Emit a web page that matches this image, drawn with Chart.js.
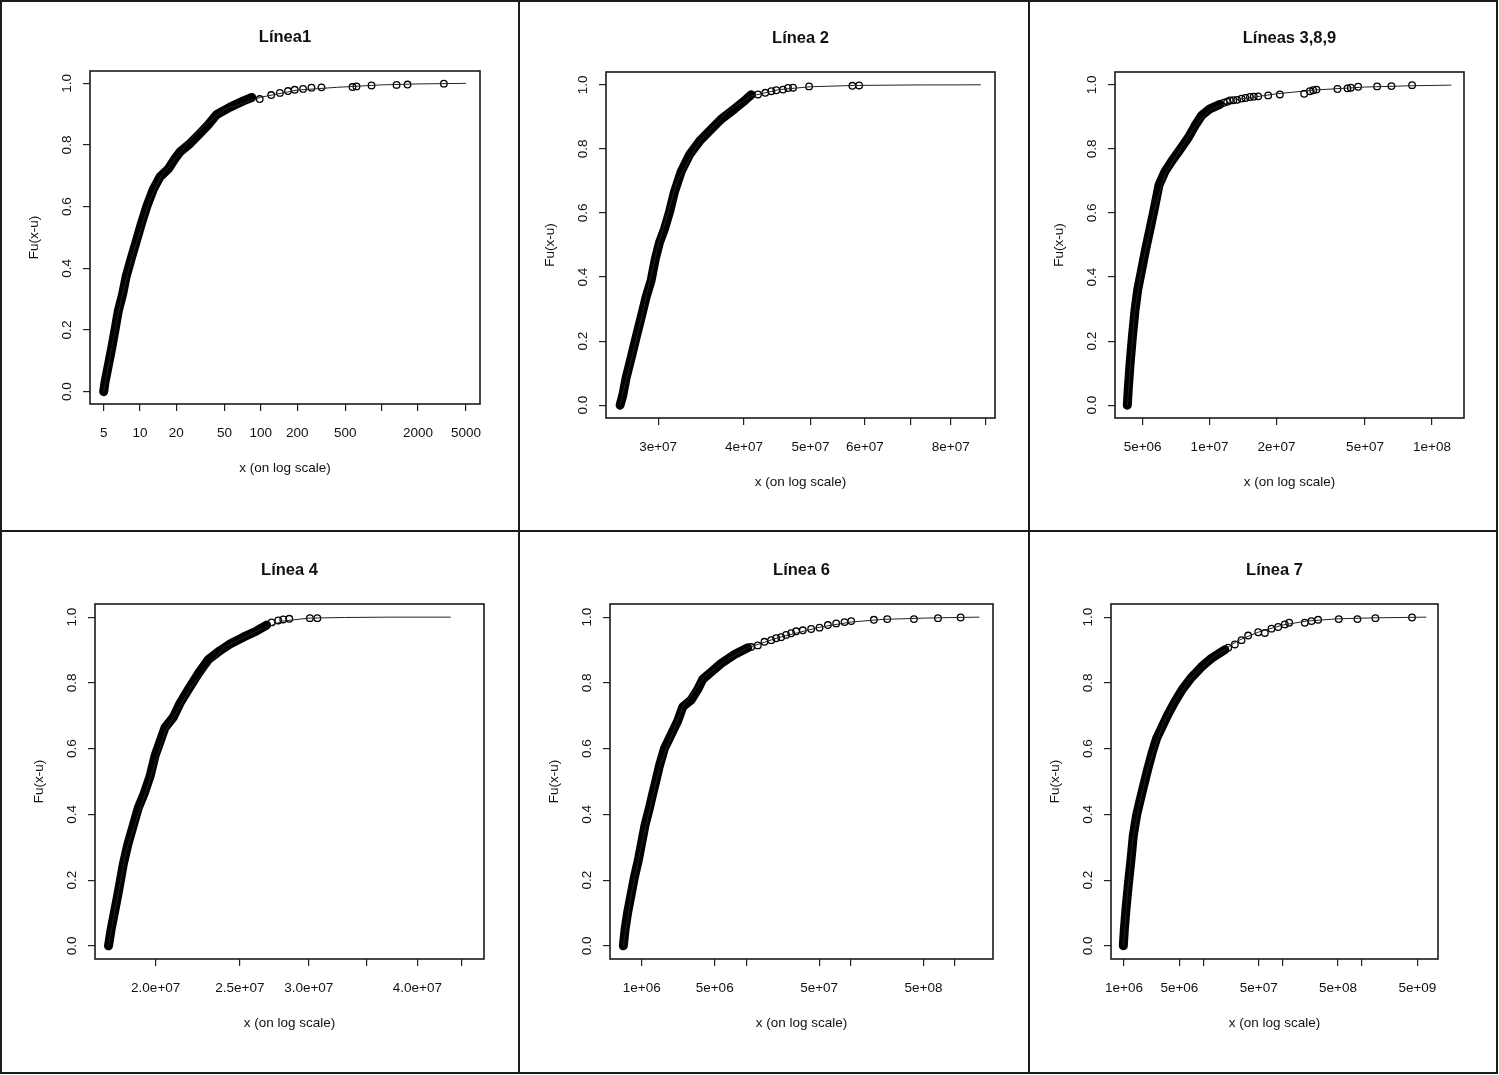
<!DOCTYPE html>
<html lang="es">
<head>
<meta charset="utf-8">
<title>Fu(x-u)</title>
<script src="https://cdn.jsdelivr.net/npm/chart.js@4.4.1/dist/chart.umd.min.js"></script>
<style>
  html, body { margin: 0; padding: 0; background: #fff; }
  #page { position: relative; width: 1499px; height: 1075px; overflow: hidden; background: #fff; }
  .rule { position: absolute; background: #1c1c1c; }
  canvas { position: absolute; }
</style>
</head>
<body>
<div id="page">
  <div class="rule" style="left:0;top:0;width:1498px;height:2px"></div>
  <div class="rule" style="left:0;top:1072px;width:1498px;height:2px"></div>
  <div class="rule" style="left:0;top:0;width:2px;height:1074px"></div>
  <div class="rule" style="left:1496px;top:0;width:2px;height:1074px"></div>
  <div class="rule" style="left:518px;top:0;width:2px;height:1074px"></div>
  <div class="rule" style="left:1028px;top:0;width:2px;height:1074px"></div>
  <div class="rule" style="left:0;top:530px;width:1498px;height:2px"></div>
  <canvas id="c1"></canvas>
  <canvas id="c2"></canvas>
  <canvas id="c3"></canvas>
  <canvas id="c4"></canvas>
  <canvas id="c5"></canvas>
  <canvas id="c6"></canvas>
</div>
<script>
// eje y común
const yTicks = [0, 0.2, 0.4, 0.6, 0.8, 1.0];
const yTickLabels = ["0.0", "0.2", "0.4", "0.6", "0.8", "1.0"];

// Línea1
const l1DenseX = [5.0, 5.13, 5.47, 5.83, 6.21, 6.61, 7.18, 7.65, 8.37, 9.38, 10.3, 11.4, 12.9, 14.6, 17.2, 19.5, 21.5, 26.0, 31.4, 36.8, 43.2, 55.7, 71.8, 84.2];
const l1DenseF = [0.0, 0.031, 0.086, 0.141, 0.201, 0.262, 0.316, 0.371, 0.426, 0.492, 0.547, 0.602, 0.657, 0.696, 0.723, 0.756, 0.778, 0.805, 0.838, 0.866, 0.899, 0.923, 0.943, 0.954];
const l1TailX = [98, 122, 144, 168, 191, 224, 263, 318, 575, 620, 826, 1331, 1641, 3281];
const l1TailF = [0.949, 0.962, 0.969, 0.975, 0.979, 0.982, 0.986, 0.987, 0.988, 0.990, 0.993, 0.995, 0.996, 0.999];
const l1FitX = [5, 6, 7, 8.5, 10, 12, 15, 20, 30, 50, 100, 200, 425, 1000, 2000, 5000];
const l1FitF = [0, 0.17, 0.3, 0.43, 0.52, 0.62, 0.7, 0.76, 0.845, 0.915, 0.955, 0.978, 0.987, 0.995, 0.998, 1.0];
const l1Ticks = [5, 10, 20, 50, 100, 200, 500, 1000, 2000, 5000];
const l1TickLabels = ["5", "10", "20", "50", "100", "200", "500", "", "2000", "5000"];

// Línea 2
const l2DenseX = [2.641e7, 2.665e7, 2.694e7, 2.740e7, 2.786e7, 2.834e7, 2.882e7, 2.931e7, 2.970e7, 3.013e7, 3.064e7, 3.116e7, 3.169e7, 3.241e7, 3.333e7, 3.447e7, 3.565e7, 3.707e7, 3.877e7, 3.987e7, 4.100e7];
const l2DenseF = [0, 0.031, 0.084, 0.147, 0.211, 0.274, 0.338, 0.390, 0.454, 0.507, 0.549, 0.602, 0.666, 0.729, 0.782, 0.824, 0.856, 0.893, 0.925, 0.946, 0.969];
const l2TailX = [4.193e7, 4.297e7, 4.385e7, 4.459e7, 4.560e7, 4.637e7, 4.716e7, 4.976e7, 5.754e7, 5.885e7];
const l2TailF = [0.970, 0.975, 0.980, 0.983, 0.985, 0.990, 0.991, 0.995, 0.997, 0.998];
const l2FitX = [2.64e7, 2.8e7, 3.0e7, 3.2e7, 3.45e7, 3.8e7, 4.1e7, 4.5e7, 5e7, 5.8e7, 7e7, 8.85e7];
const l2FitF = [0, 0.22, 0.5, 0.7, 0.825, 0.92, 0.965, 0.985, 0.994, 0.998, 0.9995, 1.0];
const l2Ticks = [3e7, 4e7, 5e7, 6e7, 7e7, 8e7, 9e7];
const l2TickLabels = ["3e+07", "4e+07", "5e+07", "6e+07", "", "8e+07", ""];

// Líneas 3,8,9
const l3DenseX = [4.267e6, 4.312e6, 4.387e6, 4.494e6, 4.620e6, 4.749e6, 4.950e6, 5.159e6, 5.396e6, 5.643e6, 5.922e6, 6.301e6, 6.748e6, 7.359e6, 8.024e6, 8.594e6, 9.207e6, 1.003e7, 1.113e7];
const l3DenseF = [0, 0.052, 0.126, 0.211, 0.295, 0.359, 0.422, 0.486, 0.549, 0.613, 0.687, 0.729, 0.761, 0.798, 0.835, 0.872, 0.904, 0.925, 0.939];
const l3TailX = [1.16e7, 1.2e7, 1.234e7, 1.28e7, 1.33e7, 1.392e7, 1.45e7, 1.518e7, 1.58e7, 1.654e7, 1.834e7, 2.070e7, 2.662e7, 2.822e7, 2.922e7, 3.024e7, 3.758e7, 4.168e7, 4.313e7, 4.653e7, 5.662e7, 6.567e7, 8.133e7];
const l3TailF = [0.944, 0.947, 0.951, 0.952, 0.953, 0.957, 0.959, 0.962, 0.963, 0.964, 0.967, 0.970, 0.972, 0.980, 0.983, 0.985, 0.987, 0.989, 0.991, 0.994, 0.995, 0.996, 0.999];
const l3FitX = [4.27e6, 4.6e6, 5e6, 5.6e6, 6.3e6, 7.4e6, 8.6e6, 1e7, 1.3e7, 2e7, 3e7, 5e7, 8e7, 1.22e8];
const l3FitF = [0, 0.29, 0.44, 0.6, 0.72, 0.8, 0.87, 0.922, 0.953, 0.972, 0.984, 0.993, 0.997, 0.999];
const l3Ticks = [5e6, 1e7, 2e7, 5e7, 1e8];
const l3TickLabels = ["5e+06", "1e+07", "2e+07", "5e+07", "1e+08"];

// Línea 4
const l4DenseX = [1.765e7, 1.777e7, 1.793e7, 1.812e7, 1.836e7, 1.860e7, 1.885e7, 1.910e7, 1.939e7, 1.970e7, 1.997e7, 2.023e7, 2.050e7, 2.096e7, 2.133e7, 2.181e7, 2.239e7, 2.299e7, 2.371e7, 2.435e7, 2.522e7, 2.613e7, 2.683e7];
const l4DenseF = [0, 0.049, 0.102, 0.165, 0.250, 0.314, 0.367, 0.420, 0.462, 0.515, 0.579, 0.621, 0.664, 0.696, 0.738, 0.780, 0.828, 0.871, 0.898, 0.918, 0.939, 0.958, 0.976];
const l4TailX = [2.719e7, 2.767e7, 2.804e7, 2.849e7, 3.009e7, 3.069e7];
const l4TailF = [0.984, 0.990, 0.993, 0.995, 0.997, 0.997];
const l4FitX = [1.765e7, 1.85e7, 1.95e7, 2.05e7, 2.2e7, 2.4e7, 2.6e7, 2.8e7, 3.0e7, 3.3e7, 3.7e7, 4.37e7];
const l4FitF = [0, 0.29, 0.47, 0.65, 0.79, 0.91, 0.955, 0.988, 0.997, 0.999, 1.0, 1.0];
const l4Ticks = [2.0e7, 2.5e7, 3.0e7, 3.5e7, 4.0e7, 4.5e7];
const l4TickLabels = ["2.0e+07", "2.5e+07", "3.0e+07", "", "4.0e+07", ""];

// Línea 6
const l6DenseX = [6.673e5, 6.923e5, 7.342e5, 7.902e5, 8.506e5, 9.292e5, 1.0e6, 1.076e6, 1.185e6, 1.275e6, 1.372e6, 1.477e6, 1.649e6, 1.911e6, 2.213e6, 2.472e6, 2.971e6, 3.441e6, 3.843e6, 4.618e6, 5.759e6, 7.732e6, 1.038e7];
const l6DenseF = [0, 0.049, 0.102, 0.155, 0.208, 0.261, 0.314, 0.367, 0.419, 0.462, 0.504, 0.547, 0.600, 0.642, 0.684, 0.727, 0.748, 0.780, 0.811, 0.833, 0.859, 0.886, 0.907];
const l6TailX = [1.117e7, 1.294e7, 1.499e7, 1.738e7, 1.940e7, 2.165e7, 2.416e7, 2.700e7, 3.013e7, 3.492e7, 4.198e7, 5.046e7, 6.063e7, 7.289e7, 8.760e7, 1.015e8, 1.673e8, 2.246e8, 4.046e8, 6.873e8, 1.133e9];
const l6TailF = [0.909, 0.914, 0.925, 0.930, 0.936, 0.939, 0.946, 0.951, 0.957, 0.960, 0.964, 0.968, 0.976, 0.981, 0.985, 0.988, 0.992, 0.994, 0.994, 0.997, 0.999];
const l6FitX = [6.67e5, 8e5, 1e6, 1.5e6, 2.5e6, 4e6, 6e6, 1e7, 2e7, 5e7, 1e8, 2e8, 5e8, 1e9, 1.71e9];
const l6FitF = [0, 0.16, 0.31, 0.55, 0.73, 0.82, 0.862, 0.905, 0.937, 0.969, 0.985, 0.993, 0.997, 0.999, 1.0];
const l6Ticks = [1e6, 5e6, 1e7, 5e7, 1e8, 5e8, 1e9];
const l6TickLabels = ["1e+06", "5e+06", "", "5e+07", "", "5e+08", ""];

// Línea 7
const l7DenseX = [9.81e5, 1.010e6, 1.060e6, 1.134e6, 1.225e6, 1.310e6, 1.444e6, 1.591e6, 1.752e6, 1.987e6, 2.275e6, 2.579e6, 2.981e6, 3.618e6, 4.388e6, 5.429e6, 7.117e6, 9.510e6, 1.271e7, 1.871e7];
const l7DenseF = [0, 0.049, 0.112, 0.186, 0.261, 0.335, 0.398, 0.441, 0.483, 0.536, 0.589, 0.631, 0.663, 0.706, 0.743, 0.780, 0.817, 0.849, 0.875, 0.901];
const l7TailX = [2.061e7, 2.500e7, 3.033e7, 3.679e7, 4.920e7, 5.968e7, 7.240e7, 8.785e7, 1.066e8, 1.209e8, 1.903e8, 2.310e8, 2.802e8, 5.104e8, 8.768e8, 1.478e9, 4.279e9];
const l7TailF = [0.907, 0.917, 0.930, 0.944, 0.954, 0.952, 0.965, 0.970, 0.978, 0.983, 0.983, 0.988, 0.992, 0.994, 0.994, 0.997, 0.999];
const l7FitX = [9.81e5, 1.1e6, 1.3e6, 1.6e6, 2e6, 3e6, 4.4e6, 7e6, 1.27e7, 2.7e7, 5e7, 1e8, 2e8, 5e8, 1.5e9, 6.49e9];
const l7FitF = [0, 0.15, 0.33, 0.44, 0.54, 0.665, 0.745, 0.815, 0.875, 0.928, 0.955, 0.976, 0.988, 0.995, 0.998, 1.0];
const l7Ticks = [1e6, 5e6, 1e7, 5e7, 1e8, 5e8, 1e9, 5e9];
const l7TickLabels = ["1e+06", "5e+06", "", "5e+07", "", "5e+08", "", "5e+09"];

// ---- maquetación ----
const FONT = "'Liberation Sans', Arial, Helvetica, sans-serif";
const INK = "#111";
const Y_AXIS_W = 64;
const X_AXIS_H = 72;

// rect = canvas [left, top, w, h]; box = área del gráfico [left, top, right, bottom] en la página
const panels = [
  { id: "c1", title: "Línea1", rect: [2, 2, 516, 528], box: [90, 71, 480, 404], xMin: 3.853, xMax: 6535,
    ticks: l1Ticks, labels: l1TickLabels, dense: [l1DenseX, l1DenseF], tail: [l1TailX, l1TailF], fit: [l1FitX, l1FitF] },
  { id: "c2", title: "Línea 2", rect: [520, 2, 508, 528], box: [606, 72, 995, 418], xMin: 2.519e7, xMax: 9.281e7,
    ticks: l2Ticks, labels: l2TickLabels, dense: [l2DenseX, l2DenseF], tail: [l2TailX, l2TailF], fit: [l2FitX, l2FitF] },
  { id: "c3", title: "Líneas 3,8,9", rect: [1030, 2, 466, 528], box: [1115, 72, 1464, 418], xMin: 3.757e6, xMax: 1.392e8,
    ticks: l3Ticks, labels: l3TickLabels, dense: [l3DenseX, l3DenseF], tail: [l3TailX, l3TailF], fit: [l3FitX, l3FitF] },
  { id: "c4", title: "Línea 4", rect: [2, 532, 516, 540], box: [95, 604, 484, 959], xMin: 1.703e7, xMax: 4.772e7,
    ticks: l4Ticks, labels: l4TickLabels, dense: [l4DenseX, l4DenseF], tail: [l4TailX, l4TailF], fit: [l4FitX, l4FitF] },
  { id: "c5", title: "Línea 6", rect: [520, 532, 508, 540], box: [610, 604, 993, 959], xMin: 4.972e5, xMax: 2.313e9,
    ticks: l6Ticks, labels: l6TickLabels, dense: [l6DenseX, l6DenseF], tail: [l6TailX, l6TailF], fit: [l6FitX, l6FitF] },
  { id: "c6", title: "Línea 7", rect: [1030, 532, 466, 540], box: [1111, 604, 1438, 959], xMin: 6.861e5, xMax: 9.097e9,
    ticks: l7Ticks, labels: l7TickLabels, dense: [l7DenseX, l7DenseF], tail: [l7TailX, l7TailF], fit: [l7FitX, l7FitF] },
];

const pts = (xs, ys) => xs.map((x, i) => ({ x: x, y: ys[i] }));

// título centrado sobre la caja y marco del gráfico (estilo R)
const frameAndTitle = {
  id: "frameAndTitle",
  afterDraw(chart, args, opts) {
    const { ctx, chartArea: a } = chart;
    ctx.save();
    ctx.strokeStyle = "#1a1a1a";
    ctx.lineWidth = 1.6;
    ctx.strokeRect(a.left, a.top, a.right - a.left, a.bottom - a.top);
    ctx.fillStyle = INK;
    ctx.font = "bold 16.5px " + FONT;
    ctx.textAlign = "center";
    ctx.textBaseline = "middle";
    ctx.fillText(opts.text, (a.left + a.right) / 2, a.top - 34);
    ctx.restore();
  },
};

const tickGrid = { display: true, drawOnChartArea: false, drawTicks: true, tickLength: 7, color: "#222", lineWidth: 1.2 };

panels.forEach((p) => {
  const cv = document.getElementById(p.id);
  const [cl, ct, cw, ch] = p.rect;
  const [bl, bt, br, bb] = p.box;
  cv.width = cw;
  cv.height = ch;
  cv.style.left = cl + "px";
  cv.style.top = ct + "px";
  cv.style.width = cw + "px";
  cv.style.height = ch + "px";

  new Chart(cv, {
    type: "scatter",
    data: {
      datasets: [
        {
          label: "ajuste",
          data: pts(p.fit[0], p.fit[1]),
          showLine: true,
          borderColor: "#222",
          borderWidth: 1,
          pointRadius: 0,
        },
        {
          label: "empírica densa",
          data: pts(p.dense[0], p.dense[1]),
          showLine: true,
          borderColor: "#000",
          borderWidth: 9,
          borderJoinStyle: "round",
          borderCapStyle: "round",
          pointRadius: 0,
        },
        {
          label: "empírica",
          data: pts(p.tail[0], p.tail[1]),
          showLine: false,
          pointRadius: 3.3,
          pointBorderWidth: 1.3,
          pointBorderColor: "#000",
          pointBackgroundColor: "rgba(0,0,0,0)",
        },
      ],
    },
    options: {
      responsive: false,
      animation: false,
      events: [],
      layout: {
        padding: {
          left: bl - cl - Y_AXIS_W,
          top: bt - ct,
          right: cl + cw - br,
          bottom: ct + ch - bb - X_AXIS_H,
        },
      },
      plugins: {
        legend: { display: false },
        tooltip: { enabled: false },
        frameAndTitle: { text: p.title },
      },
      scales: {
        x: {
          type: "logarithmic",
          min: p.xMin,
          max: p.xMax,
          bounds: "data",
          afterBuildTicks: (s) => { s.ticks = p.ticks.map((v) => ({ value: v })); },
          afterFit: (s) => { s.height = X_AXIS_H; },
          grid: tickGrid,
          border: { display: false },
          ticks: {
            autoSkip: false,
            maxRotation: 0,
            minRotation: 0,
            padding: 14,
            color: INK,
            font: { family: FONT, size: 13.5 },
            callback: (v, i) => p.labels[i],
          },
          title: { display: true, text: "x (on log scale)", color: INK, font: { family: FONT, size: 13.5 }, padding: 0 },
        },
        y: {
          type: "linear",
          min: -0.04,
          max: 1.04,
          bounds: "data",
          afterBuildTicks: (s) => { s.ticks = yTicks.map((v) => ({ value: v })); },
          afterFit: (s) => { s.width = Y_AXIS_W; },
          grid: tickGrid,
          border: { display: false },
          ticks: {
            minRotation: 90,
            maxRotation: 90,
            crossAlign: "center",
            padding: 6,
            color: INK,
            font: { family: FONT, size: 13.5 },
            callback: (v, i) => yTickLabels[i],
          },
          title: { display: true, text: "Fu(x-u)", color: INK, font: { family: FONT, size: 13.5 }, padding: 0 },
        },
      },
    },
    plugins: [frameAndTitle],
  });
});
</script>
</body>
</html>
